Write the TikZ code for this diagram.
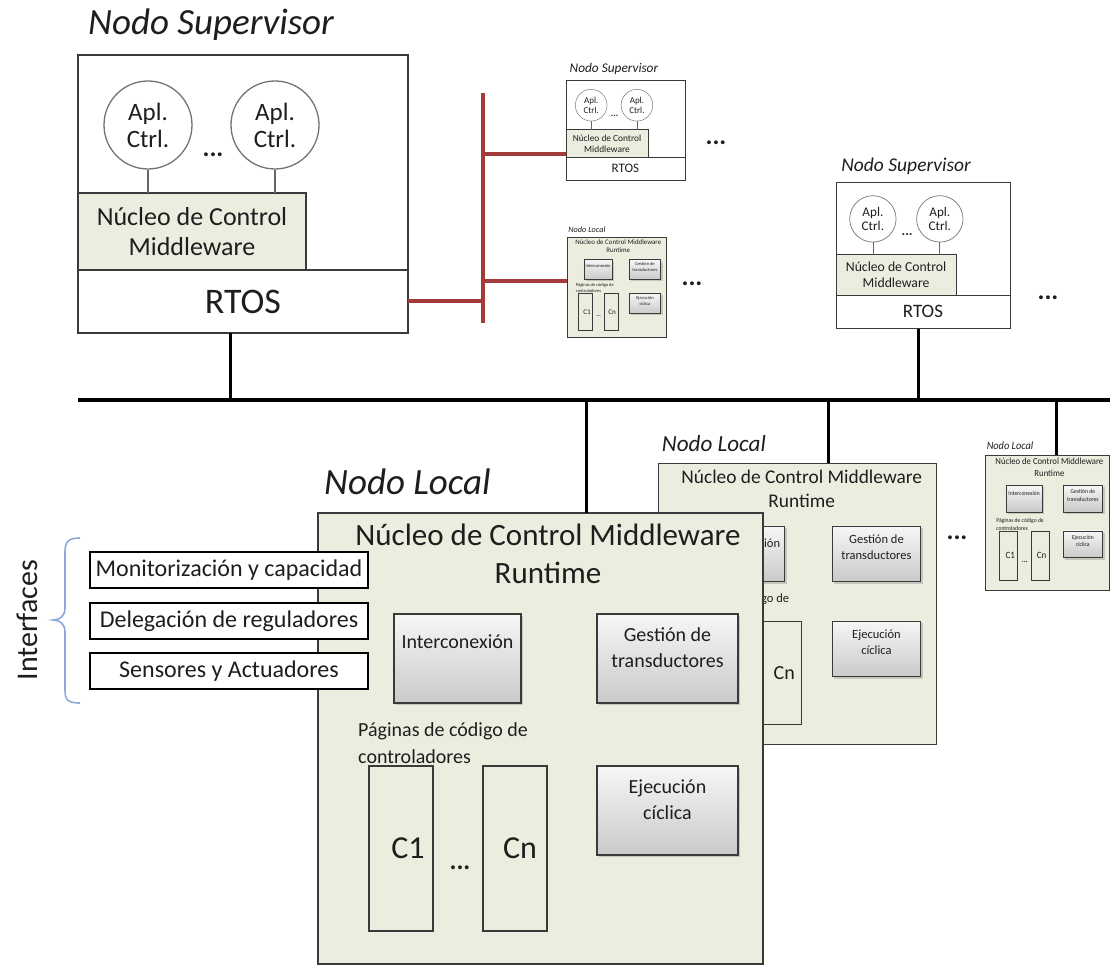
\documentclass[tikz,border=0pt]{standalone}
\usepackage{fontspec}
\setmainfont{Carlito}
\usetikzlibrary{shadows,calc}
\definecolor{lgreen}{HTML}{EBEEDF}
\definecolor{bdr}{HTML}{3A3A3A}
\definecolor{redbus}{HTML}{A33B3B}
\definecolor{bracecol}{HTML}{8EA9D8}
\definecolor{txt}{HTML}{1E1E1E}
\def\lwf{1}
\tikzset{
  boxline/.style={draw=bdr, line width=\lwf*1.6pt},
  plainbox/.style={boxline, fill=white, inner sep=0pt, outer sep=0pt, anchor=north west},
  greenbox/.style={boxline, fill=lgreen, inner sep=0pt, outer sep=0pt, anchor=north west},
  appcircle/.style={circle, draw=black!55, line width=\lwf*1.3pt, fill=white, minimum size=88pt, inner sep=0pt, align=center, text=txt, font=\fontsize{25}{27}\selectfont},
  graybox/.style={draw=bdr, line width=\lwf*1.6pt, top color=gray!7, bottom color=gray!42, drop shadow={shadow xshift=2pt, shadow yshift=-2pt, opacity=0.35}, inner sep=0pt, outer sep=0pt, anchor=north west, align=center, text=txt, font=\fontsize{20}{26}\selectfont},
  pagebox/.style={boxline, inner sep=0pt, outer sep=0pt, anchor=north west, minimum width=64pt, minimum height=165pt, text=txt, font=\fontsize{32}{34}\selectfont},
  nodetitle/.style={anchor=west, inner sep=0pt, text=txt, font=\fontsize{37}{40}\selectfont\itshape},
  dots/.style={inner sep=0pt, text=txt, font=\fontsize{26}{28}\selectfont\bfseries},
  ifbox/.style={draw=black, line width=1.5pt, fill=white, inner sep=0pt, outer sep=0pt, anchor=north west, minimum width=278pt, minimum height=36pt, text=txt, font=\fontsize{24}{26}\selectfont},
  busline/.style={black, line width=4.5pt},
  drop/.style={black, line width=3pt},
  redline/.style={redbus, line width=4pt},
}
% supervisor node: prefix, x, y, scale
\newcommand{\supnode}[4]{%
\begin{scope}[shift={(#2,#3)}, scale=#4, transform shape]
\pgfmathsetmacro{\lwf}{#4}
\node[plainbox, minimum width=330pt, minimum height=278pt] (#1-box) at (0,0) {};
\node[nodetitle] (#1-title) at (10,-30) {Nodo Supervisor};
\node[plainbox, minimum width=330pt, minimum height=63pt, text=txt, font=\fontsize{36}{38}\selectfont] (#1-rtos) at (0,215) {RTOS};
\node[greenbox, minimum width=228pt, minimum height=77pt, align=center, text=txt, font=\fontsize{26}{30}\selectfont] (#1-core) at (0,138) {Núcleo de Control\\Middleware};
\node[appcircle] (#1-a1) at (70,70) {Apl.\\Ctrl.};
\node[appcircle] (#1-a2) at (197,70) {Apl.\\Ctrl.};
\draw[black!60, line width=\lwf*1.3pt] (#1-a1.south) -- (#1-a1.south |- #1-core.north);
\draw[black!60, line width=\lwf*1.3pt] (#1-a2.south) -- (#1-a2.south |- #1-core.north);
\node[dots] (#1-dots) at (135,100) {...};
\end{scope}}
% local node: prefix, x, y, xscale, yscale
\newcommand{\locnode}[5]{%
\begin{scope}[shift={(#2,#3)}, xscale=#4, yscale=#5, transform shape]
\pgfmathsetmacro{\lwf}{#5}
\node[greenbox, minimum width=445pt, minimum height=451pt] (#1-box) at (0,0) {};
\node[nodetitle] (#1-title) at (6,-31) {Nodo Local};
\node[align=center, inner sep=0pt, text=txt, font=\fontsize{31}{38}\selectfont] (#1-head) at (230,41) {Núcleo de Control Middleware\\Runtime};
\node[graybox, minimum width=127pt, minimum height=89pt] (#1-int) at (76,101) {Interconexión\\[8pt]};
\node[graybox, minimum width=141pt, minimum height=89pt] (#1-ges) at (279,101) {Gestión de\\transductores\\[-4pt]};
\node[graybox, minimum width=141pt, minimum height=89pt] (#1-eje) at (279,253) {Ejecución\\cíclica\\[-4pt]};
\node[anchor=west, align=left, inner sep=0pt, text=txt, font=\fontsize{20}{27}\selectfont] (#1-pag) at (40,230) {Páginas de código de\\controladores};
\node[pagebox] (#1-c1) at (51,253) {\hspace*{14pt}C1};
\node[pagebox] (#1-cn) at (165,253) {\hspace*{10pt}Cn};
\node[dots] (#1-dots) at (142,355) {...};
\end{scope}}
\begin{document}
\begin{tikzpicture}[x=1pt, y=-1pt]
\useasboundingbox (0,0) rectangle (1110,965);
\fill[white] (0,0) rectangle (1110,965);

% bus coordinates
\coordinate (busL) at (78,400);
\coordinate (busR) at (1110,400);
\coordinate (rTop) at (483,93);
\coordinate (rBot) at (483,323);
\coordinate (rS) at (483,154);
\coordinate (rL) at (483,281);

% supervisor nodes
\supnode{supA}{78}{55}{1}
\supnode{supB}{566}{80}{0.36}
\supnode{supC}{836}{182}{0.527}

% small local nodes
\locnode{locT}{567}{237}{0.223}{0.223}
\locnode{locR}{985}{455}{0.28}{0.30}
\locnode{locM}{658}{463}{0.625}{0.625}

% black bus and drops
\draw[busline] (busL) -- (busR);
\coordinate (dA) at (230,400);
\coordinate (dC) at (918,400);
\coordinate (dM) at (586,400);
\coordinate (dLM) at (828,400);
\coordinate (dLR) at (1056,400);
\draw[drop] (dA) -- (dA |- supA-box.south);
\draw[drop] (dC) -- (dC |- supC-box.south);
\draw[drop] (dLM) -- (dLM |- locM-box.north);
\draw[drop] (dLR) -- (dLR |- locR-box.north);

% main local node
\locnode{locA}{318}{513}{1}{1}
\draw[drop] (dM) -- (dM |- locA-box.north);

% red bus
\draw[redline] (rTop) -- (rBot);
\draw[redline] (supA-rtos.east) -- (supA-rtos.east -| rTop);
\draw[redline] (rS) -- (rS -| supB-box.west);
\draw[redline] (rL) -- (rL -| locT-box.west);

% continuation dots
\node[dots] (dots1) at (716,143) {...};
\node[dots] (dots2) at (692,284) {...};
\node[dots] (dots3) at (1048,298) {...};
\node[dots] (dots4) at (957,538) {...};

% interfaces
\node[ifbox] (if1) at (90,552) {Monitorización y capacidad};
\node[ifbox] (if2) at (90,603) {Delegación de reguladores};
\node[ifbox] (if3) at (90,653) {Sensores y Actuadores};
\coordinate (brTop) at (80,538);
\coordinate (brTip) at (53,620);
\coordinate (brBot) at (80,703);
\draw[bracecol, line width=1.6pt] (brTop) .. controls (68,538) and (65,542) .. (65,552) -- (65,608) .. controls (65,616) and (60,620) .. (brTip) .. controls (60,620) and (65,624) .. (65,632) -- (65,690) .. controls (65,700) and (68,703) .. (brBot);
\node[rotate=90, inner sep=0pt, text=txt, font=\fontsize{30}{32}\selectfont] (iflabel) at (27,620) {Interfaces};
\end{tikzpicture}
\end{document}
